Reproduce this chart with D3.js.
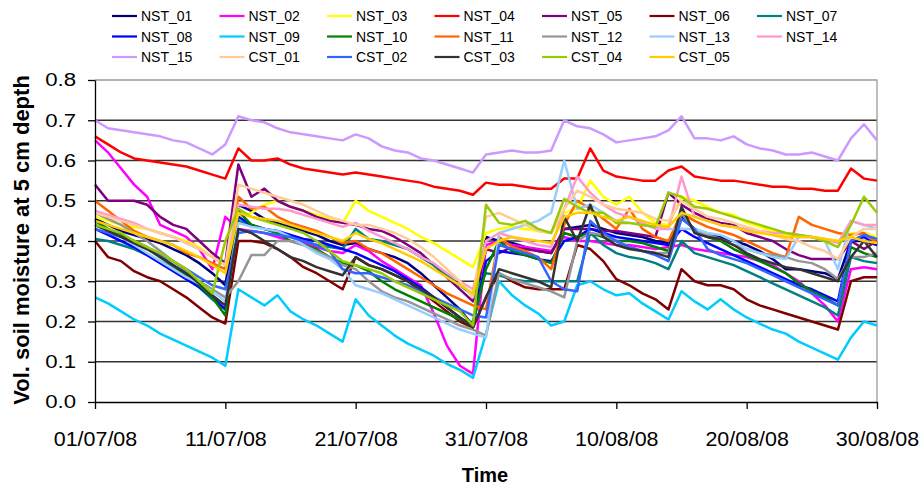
<!DOCTYPE html>
<html>
<head>
<meta charset="utf-8">
<script src="https://cdn.jsdelivr.net/npm/d3@7"></script>
<style>
  body { margin: 0; background: #fff; }
  text { font-family: "Liberation Sans", Arial, sans-serif; fill: #000; }
</style>
</head>
<body>
<div id="chart"></div>
<script>
// plot area in page pixels
var margin = { top: 80, right: 43, bottom: 84, left: 95 },
  W = 920, H = 486,
  width = W - margin.left - margin.right,
  height = H - margin.top - margin.bottom;

// one value per day, starting at startDate
var startDate = "2008-07-01";
var endDate = "2008-08-30";
var xTickDates = ["2008-07-01", "2008-07-11", "2008-07-21", "2008-07-31", "2008-08-10", "2008-08-20", "2008-08-30"];
var yTicks = [0, 0.1, 0.2, 0.3, 0.4, 0.5, 0.6, 0.7, 0.8];

var seriesNames = ["NST_01", "NST_02", "NST_03", "NST_04", "NST_05", "NST_06", "NST_07",
  "NST_08", "NST_09", "NST_10", "NST_11", "NST_12", "NST_13", "NST_14",
  "NST_15", "CST_01", "CST_02", "CST_03", "CST_04", "CST_05"];
var seriesColors = ["#000080", "#ff00ff", "#ffff00", "#ff0000", "#800080", "#800000", "#008080",
  "#0000ff", "#00ccff", "#008000", "#ff6600", "#969696", "#99ccff", "#ff99cc",
  "#cc99ff", "#ffcc99", "#3366ff", "#333333", "#99cc00", "#ffcc00"];

var nst01 = [.455,.44,.425,.415,.405,.395,.38,.365,.345,.32, .29,.49,.475,.455,.445,.435,.425,.415,.40,.39, .395,.38,.37,.36,.345,.32,.29,.26,.23,.19, .41,.40,.395,.385,.375,.37,.43,.435,.44,.43, .42,.415,.41,.40,.395,.46,.43,.415,.41,.40, .39,.375,.355,.33,.33,.325,.32,.305,.40,.40, .39];
var nst02 = [.65,.62,.58,.54,.51,.44,.425,.41,.38,.33, .46,.43,.425,.42,.41,.40,.395,.385,.375,.37, .39,.375,.35,.33,.31,.29,.22,.14,.09,.07, .39,.40,.39,.385,.38,.375,.41,.40,.40,.395, .39,.39,.385,.38,.385,.39,.38,.375,.37,.365, .36,.35,.34,.32,.30,.27,.24,.20,.33,.335, .33];
var nst03 = [.46,.45,.44,.435,.43,.42,.41,.40,.385,.36, .34,.46,.47,.49,.50,.485,.475,.465,.455,.445, .50,.475,.46,.445,.43,.41,.395,.375,.355,.335, .42,.43,.435,.43,.425,.42,.47,.48,.55,.51, .49,.51,.47,.445,.44,.51,.50,.485,.47,.465, .445,.435,.425,.415,.41,.41,.405,.40,.42,.42, .41];
var nst04 = [.66,.64,.62,.605,.60,.595,.59,.585,.575,.565, .555,.63,.60,.60,.605,.59,.58,.575,.57,.565, .57,.565,.56,.555,.55,.545,.535,.53,.525,.515, .545,.54,.54,.535,.53,.53,.555,.555,.63,.575, .56,.555,.55,.55,.575,.585,.56,.555,.55,.55, .545,.54,.535,.535,.53,.53,.525,.525,.58,.555, .55];
var nst05 = [.54,.50,.50,.50,.49,.46,.44,.43,.40,.37, .345,.59,.51,.53,.50,.485,.475,.46,.45,.445, .44,.43,.425,.41,.39,.37,.34,.31,.28,.25, .38,.37,.385,.38,.375,.37,.43,.43,.43,.425, .425,.42,.415,.41,.52,.49,.47,.455,.445,.44, .42,.41,.40,.38,.365,.355,.355,.355,.40,.38, .40];
var nst06 = [.40,.36,.35,.325,.31,.30,.28,.26,.235,.21, .195,.40,.40,.395,.38,.36,.335,.32,.30,.28, .36,.34,.33,.315,.30,.275,.25,.225,.20,.185, .26,.32,.30,.285,.28,.28,.28,.39,.38,.35, .305,.29,.27,.255,.23,.33,.30,.29,.29,.28, .255,.24,.23,.22,.21,.20,.19,.18,.30,.31, .31];
var nst07 = [.405,.40,.39,.38,.365,.35,.335,.31,.285,.255, .23,.45,.44,.43,.42,.41,.40,.39,.385,.38, .43,.405,.40,.39,.38,.36,.34,.315,.29,.265, .32,.315,.305,.30,.30,.30,.30,.30,.42,.39, .37,.36,.355,.345,.33,.40,.37,.36,.35,.34, .325,.31,.295,.28,.265,.25,.235,.215,.36,.35, .345];
var nst08 = [.43,.415,.40,.385,.365,.345,.325,.305,.285,.26, .23,.46,.44,.43,.425,.415,.405,.40,.39,.38, .37,.355,.34,.325,.305,.285,.26,.235,.21,.19, .35,.375,.37,.365,.355,.35,.40,.41,.43,.42, .41,.405,.40,.395,.39,.43,.41,.395,.38,.365, .35,.335,.32,.305,.29,.28,.265,.25,.40,.41, .39];
var nst09 = [.26,.245,.225,.205,.19,.17,.155,.14,.125,.11, .09,.28,.26,.24,.265,.225,.205,.19,.17,.15, .255,.215,.19,.165,.145,.13,.115,.095,.08,.06, .17,.30,.265,.24,.22,.19,.20,.29,.30,.28, .265,.27,.245,.225,.205,.275,.25,.23,.255,.23, .21,.195,.18,.17,.15,.135,.12,.105,.16,.20, .19];
var nst10 = [.45,.43,.415,.40,.385,.36,.34,.315,.29,.26, .215,.475,.44,.43,.42,.40,.39,.38,.36,.345, .34,.325,.30,.28,.265,.25,.235,.22,.205,.195, .33,.40,.375,.365,.355,.345,.42,.41,.42,.41, .40,.40,.395,.385,.375,.47,.425,.41,.40,.38, .365,.35,.335,.32,.295,.275,.26,.24,.385,.37, .36];
var nst11 = [.50,.475,.45,.425,.41,.40,.39,.37,.36,.345, .33,.51,.48,.485,.46,.445,.435,.425,.41,.395, .40,.38,.37,.35,.33,.31,.29,.27,.255,.24, .23,.41,.385,.375,.36,.33,.44,.50,.48,.455, .43,.48,.43,.41,.40,.47,.45,.435,.425,.415, .40,.385,.37,.36,.46,.44,.43,.42,.415,.42, .395];
var nst12 = [.47,.455,.44,.42,.40,.375,.35,.325,.30,.28, .26,.30,.365,.365,.40,.40,.39,.375,.36,.34, .33,.30,.275,.26,.25,.235,.22,.205,.19,.18, .165,.32,.305,.295,.285,.275,.26,.40,.42,.415, .40,.385,.375,.37,.37,.47,.425,.415,.405,.39, .38,.37,.365,.36,.35,.345,.33,.305,.36,.36, .37];
var nst13 = [.44,.425,.41,.39,.37,.35,.33,.31,.295,.275, .25,.445,.435,.43,.425,.41,.39,.37,.355,.33, .29,.28,.27,.255,.24,.225,.21,.195,.18,.17, .16,.42,.43,.44,.45,.47,.60,.48,.49,.47, .45,.445,.44,.435,.43,.43,.43,.42,.415,.40, .38,.37,.36,.355,.41,.41,.40,.33,.45,.44, .43];
var nst14 = [.475,.465,.455,.445,.43,.42,.41,.395,.38,.36, .34,.49,.485,.48,.48,.475,.465,.455,.445,.435, .445,.425,.41,.395,.38,.36,.345,.32,.30,.28, .40,.42,.41,.40,.39,.385,.48,.56,.52,.49, .47,.46,.445,.43,.43,.56,.46,.45,.44,.435, .43,.425,.42,.42,.415,.41,.405,.395,.45,.44, .44];
var nst15 = [.70,.68,.675,.67,.665,.66,.65,.645,.63,.615, .64,.71,.70,.695,.68,.67,.665,.66,.655,.65, .665,.655,.635,.625,.62,.605,.60,.59,.58,.57, .615,.62,.625,.62,.62,.625,.70,.685,.68,.665, .645,.65,.655,.66,.675,.71,.655,.655,.65,.66, .64,.63,.625,.615,.615,.62,.61,.60,.655,.69, .65];
var cst01 = [.47,.46,.45,.44,.43,.42,.41,.395,.38,.36, .34,.54,.53,.52,.51,.50,.49,.475,.46,.45, .44,.44,.43,.42,.405,.385,.36,.33,.30,.26, .46,.47,.455,.44,.425,.42,.48,.525,.51,.49, .48,.475,.47,.455,.45,.50,.48,.46,.455,.445, .435,.425,.415,.405,.40,.385,.375,.355,.41,.43, .43];
var cst02 = [.43,.42,.41,.395,.38,.365,.35,.33,.31,.29, .28,.42,.425,.42,.415,.41,.40,.39,.375,.33, .32,.32,.31,.30,.29,.275,.26,.245,.23,.215, .21,.39,.38,.37,.36,.30,.28,.275,.45,.42, .40,.385,.375,.365,.35,.455,.43,.38,.365,.355, .345,.33,.315,.30,.285,.27,.255,.24,.40,.415, .405];
var cst03 = [.44,.425,.41,.395,.38,.36,.34,.32,.295,.265, .24,.43,.42,.40,.38,.36,.35,.335,.325,.315, .36,.34,.33,.315,.30,.28,.26,.235,.21,.185, .26,.33,.32,.31,.30,.285,.46,.40,.49,.41, .39,.38,.375,.37,.36,.485,.42,.41,.405,.39, .37,.355,.345,.335,.33,.32,.31,.30,.36,.40, .36];
var cst04 = [.44,.43,.42,.40,.385,.37,.35,.33,.30,.27, .40,.48,.46,.45,.44,.43,.42,.40,.375,.35, .34,.33,.32,.30,.285,.27,.255,.24,.225,.19, .49,.445,.44,.45,.43,.42,.505,.485,.47,.47, .445,.445,.44,.435,.52,.51,.485,.48,.47,.46, .45,.44,.43,.42,.415,.41,.40,.385,.44,.51, .47];
var cst05 = [.45,.44,.43,.42,.41,.40,.39,.375,.36,.34, .32,.47,.46,.455,.45,.44,.43,.42,.41,.40, .42,.405,.395,.38,.365,.35,.33,.31,.29,.27, .38,.40,.41,.405,.40,.395,.46,.47,.47,.46, .45,.46,.45,.44,.435,.47,.46,.45,.44,.435, .425,.42,.415,.41,.41,.41,.405,.40,.41,.40, .395];

var seriesValues = [nst01, nst02, nst03, nst04, nst05, nst06, nst07, nst08, nst09, nst10,
  nst11, nst12, nst13, nst14, nst15, cst01, cst02, cst03, cst04, cst05];

var parseDate = d3.timeParse("%Y-%m-%d");
var start = parseDate(startDate);

var svg = d3.select("#chart")
  .append("svg")
  .attr("width", W)
  .attr("height", H);

var g = svg.append("g")
  .attr("transform", "translate(" + margin.left + "," + margin.top + ")");

var x = d3.scaleTime().domain([start, parseDate(endDate)]).range([0, width]);
var y = d3.scaleLinear().domain([0, 0.8]).range([height, 0]);

// gridlines
g.append("g")
  .selectAll("line")
  .data(yTicks.slice(1, -1))
  .enter().append("line")
  .attr("x1", 0).attr("x2", width)
  .attr("y1", d => y(d)).attr("y2", d => y(d))
  .attr("stroke", "#333")
  .attr("stroke-width", 1.3);

// plot border top / right
g.append("path")
  .attr("d", "M0," + y(0.8) + "H" + width + "V" + height)
  .attr("fill", "none")
  .attr("stroke", "#9a9a9a")
  .attr("stroke-width", 1.3);

// series lines
var line = d3.line()
  .x((v, i) => x(d3.timeDay.offset(start, i)))
  .y(v => y(v));

g.append("g")
  .selectAll("path")
  .data(seriesValues)
  .enter().append("path")
  .attr("d", d => line(d))
  .attr("fill", "none")
  .attr("stroke", (d, i) => seriesColors[i])
  .attr("stroke-width", 2.5)
  .attr("stroke-linejoin", "round");

// Y axis
var yAxis = g.append("g")
  .call(d3.axisLeft(y).tickValues(yTicks).tickFormat(d3.format(".1f")).tickSize(7).tickSizeOuter(0));
yAxis.select(".domain").attr("stroke", "#000").attr("stroke-width", 1.3);
yAxis.selectAll(".tick line").attr("stroke", "#000").attr("stroke-width", 1.3);
yAxis.selectAll(".tick text")
  .attr("x", 0)
  .attr("transform", "translate(-19,0) scale(1.2,1)")
  .style("font-size", "18.5px")
  .style("font-family", "'Liberation Sans', Arial, sans-serif");

// X axis
var xAxis = g.append("g")
  .attr("transform", "translate(0," + height + ")")
  .call(d3.axisBottom(x).tickValues(xTickDates.map(parseDate)).tickFormat(d3.timeFormat("%d/%m/%y")).tickSize(7).tickSizeOuter(0));
xAxis.select(".domain").attr("stroke", "#000").attr("stroke-width", 1.3);
xAxis.selectAll(".tick line").attr("stroke", "#000").attr("stroke-width", 1.3);
xAxis.selectAll(".tick text")
  .attr("y", 30)
  .attr("transform", "scale(1.1,1)")
  .style("font-size", "19.5px")
  .style("font-family", "'Liberation Sans', Arial, sans-serif");

// axis titles
svg.append("text")
  .attr("x", 485)
  .attr("y", 482)
  .attr("text-anchor", "middle")
  .style("font-weight", "bold")
  .style("font-size", "20px")
  .text("Time");

svg.append("text")
  .attr("transform", "translate(29,240) rotate(-90)")
  .attr("text-anchor", "middle")
  .style("font-weight", "bold")
  .style("font-size", "22px")
  .text("Vol. soil moisture at 5 cm depth");

// legend, 7 per row
var legendCols = 7, legendX0 = 112, legendDx = 107.5, legendY0 = 16, legendDy = 20.5;
var legend = svg.append("g")
  .selectAll("g")
  .data(seriesNames)
  .enter().append("g")
  .attr("transform", (d, i) => "translate(" + (legendX0 + legendDx * (i % legendCols)) + "," + (legendY0 + legendDy * Math.floor(i / legendCols)) + ")");

legend.append("line")
  .attr("x1", 0).attr("x2", 25)
  .attr("stroke", (d, i) => seriesColors[i])
  .attr("stroke-width", 2.2);

legend.append("text")
  .attr("x", 29)
  .attr("dy", "0.36em")
  .style("font-size", "14px")
  .text(d => d);
</script>
</body>
</html>
